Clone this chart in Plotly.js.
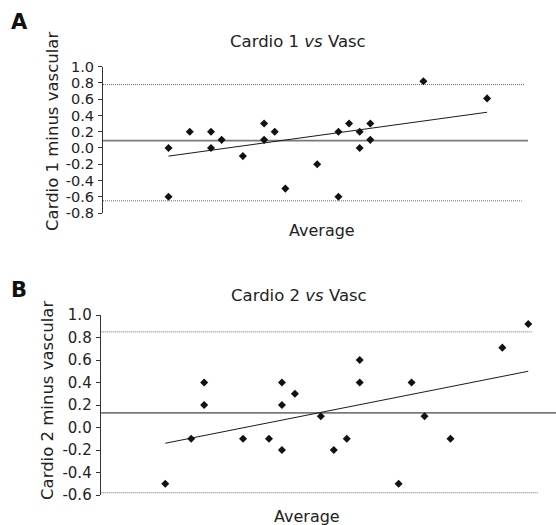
<!DOCTYPE html>
<html>
<head>
<meta charset="utf-8">
<script src="https://cdn.plot.ly/plotly-3.0.1.min.js"></script>
<style>html,body{margin:0;padding:0;background:#fff;}#chart{width:556px;height:525px;}</style>
</head>
<body>
<div id="chart"></div>
<script>
// ---- Data ----
const avgA = [1.0,1.0,1.2,1.4,1.4,1.5,1.7,1.9,1.9,2.0,2.1,2.4,2.6,2.6,2.7,2.8,2.8,2.9,2.9,3.4,4.0];
const diffA = [0.0,-0.6,0.2,0.2,0.0,0.1,-0.1,0.3,0.1,0.2,-0.5,-0.2,0.2,-0.6,0.3,0.2,0.0,0.3,0.1,0.82,0.61];
const avgB = [1.0,1.2,1.3,1.3,1.6,1.8,1.9,1.9,1.9,2.0,2.2,2.3,2.4,2.5,2.5,2.8,2.9,3.0,3.2,3.6,3.8];
const diffB = [-0.5,-0.1,0.4,0.2,-0.1,-0.1,0.4,0.2,-0.2,0.3,0.1,-0.2,-0.1,0.6,0.4,-0.5,0.4,0.1,-0.1,0.71,0.92];

const meanA = 0.09, upperA = 0.78, lowerA = -0.65;
const meanB = 0.13, upperB = 0.85, lowerB = -0.58;

const fitXA = [1.0, 4.0], fitYA = [-0.10, 0.44];
const fitXB = [1.0, 3.8], fitYB = [-0.14, 0.50];

const yTickValsA = [-0.8,-0.6,-0.4,-0.2,0.0,0.2,0.4,0.6,0.8,1.0];
const yTickTextA = ['-0.8','-0.6','-0.4','-0.2','0.0','0.2','0.4','0.6','0.8','1.0'];
const yTickValsB = [-0.6,-0.4,-0.2,0.0,0.2,0.4,0.6,0.8,1.0];
const yTickTextB = ['-0.6','-0.4','-0.2','0.0','0.2','0.4','0.6','0.8','1.0'];

const titleA = 'Cardio 1 <i>vs</i> Vasc';
const titleB = 'Cardio 2 <i>vs</i> Vasc';
const yTitleA = 'Cardio 1 minus vascular';
const yTitleB = 'Cardio 2 minus vascular';
const xTitle = 'Average';

// ---- Layout helpers ----
const W = 556, H = 525;
const px = v => v / W;
const py = v => (H - v) / H;
const FONT = 'DejaVu Sans, Verdana, sans-serif';

const xRangeA = [0.383, 4.385], xRangeB = [0.502, 4.014];
const extA = {mean: 4.385, upper: 4.347, lower: 4.326};
const extB = {mean: 4.014, upper: 3.83, lower: 3.878};

function hline(xr, xe, yv, ax, style) {
  return Object.assign({x: [xr, xe], y: [yv, yv], mode: 'lines', xaxis: ax[0], yaxis: ax[1],
    hoverinfo: 'skip', showlegend: false, cliponaxis: false}, style);
}
const meanStyle = {line: {color: '#7a7a7a', width: 1.7}};
const dotStyle = {line: {color: '#6a6a6a', width: 1, dash: '1px,1px'}};
const fitStyle = {line: {color: '#1a1a1a', width: 1}};
const markerStyle = {symbol: 'diamond', size: 6.2, color: '#111'};

const traces = [
  hline(xRangeA[0], extA.mean, meanA, ['x','y'], meanStyle),
  hline(xRangeA[0], extA.upper, upperA, ['x','y'], dotStyle),
  hline(xRangeA[0], extA.lower, lowerA, ['x','y'], dotStyle),
  {x: fitXA, y: fitYA, mode: 'lines', xaxis: 'x', yaxis: 'y', line: fitStyle.line, showlegend: false, hoverinfo: 'skip'},
  {x: avgA, y: diffA, mode: 'markers', xaxis: 'x', yaxis: 'y', marker: markerStyle, showlegend: false, cliponaxis: false},

  hline(xRangeB[0], extB.mean, meanB, ['x2','y2'], meanStyle),
  hline(xRangeB[0], extB.upper, upperB, ['x2','y2'], dotStyle),
  hline(xRangeB[0], extB.lower, lowerB, ['x2','y2'], dotStyle),
  {x: fitXB, y: fitYB, mode: 'lines', xaxis: 'x2', yaxis: 'y2', line: fitStyle.line, showlegend: false, hoverinfo: 'skip'},
  {x: avgB, y: diffB, mode: 'markers', xaxis: 'x2', yaxis: 'y2', marker: markerStyle, showlegend: false, cliponaxis: false}
];

const yAxisCommon = {
  showgrid: false, zeroline: false, showline: true, linecolor: '#333', linewidth: 1,
  ticks: 'outside', ticklen: 4, tickcolor: '#333', tickwidth: 1,
  tickfont: {family: FONT, size: 14.5, color: '#222'}, tickmode: 'array', ticklabelstandoff: 1
};
const xAxisCommon = {visible: false, showgrid: false, zeroline: false, fixedrange: true};

const ann = (text, x, y, size, extra) => Object.assign({
  text: text, x: px(x), y: py(y), xref: 'paper', yref: 'paper', showarrow: false,
  xanchor: 'center', yanchor: 'middle', font: {family: FONT, size: size, color: '#222'}
}, extra || {});

const layout = {
  width: W, height: H,
  margin: {l: 0, r: 0, t: 0, b: 0},
  paper_bgcolor: '#fff', plot_bgcolor: 'rgba(0,0,0,0)',
  showlegend: false,
  xaxis: Object.assign({}, xAxisCommon, {domain: [px(103), px(528)], range: xRangeA, anchor: 'y'}),
  yaxis: Object.assign({}, yAxisCommon, {domain: [py(213), py(66.7)], range: [-0.8, 1.0],
    tickvals: yTickValsA, ticktext: yTickTextA, anchor: 'x'}),
  xaxis2: Object.assign({}, xAxisCommon, {domain: [px(100.7), 1], range: xRangeB, anchor: 'y2'}),
  yaxis2: Object.assign({}, yAxisCommon, {domain: [py(495), py(315)], range: [-0.6, 1.0],
    tickvals: yTickValsB, ticktext: yTickTextB, anchor: 'x2', tickfont: {family: FONT, size: 15, color: '#222'}}),
  annotations: [
    ann('<b>A</b>', 19, 22, 21, {font: {family: FONT, size: 21, color: '#111'}}),
    ann('<b>B</b>', 19, 290, 21, {font: {family: FONT, size: 21, color: '#111'}}),
    ann(titleA, 298, 42, 16.5),
    ann(titleB, 299, 295, 16.5),
    ann(xTitle, 322, 230, 16),
    ann(xTitle, 307, 516, 16),
    ann(yTitleA, 52, 132, 16.5, {textangle: -90}),
    ann(yTitleB, 47, 401, 16.5, {textangle: -90})
  ]
};

Plotly.newPlot('chart', traces, layout, {displayModeBar: false, staticPlot: true});
</script>
</body>
</html>
